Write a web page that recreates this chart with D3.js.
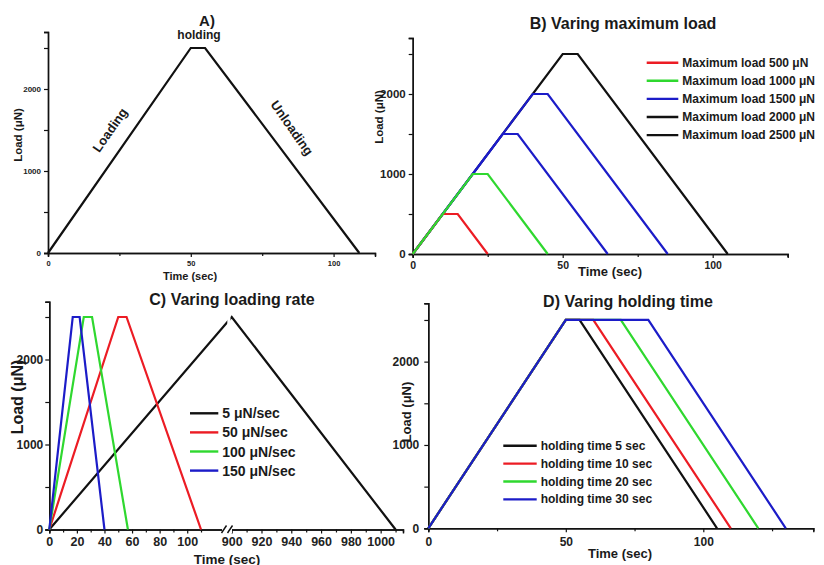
<!DOCTYPE html>
<html lang="en">
<head>
<meta charset="UTF-8">
<title>load functions</title>
<script src="https://cdn.jsdelivr.net/npm/d3@7/dist/d3.min.js"></script>
<style>
    body{ margin:0; background:#fff; }
    svg{ font-family:'Liberation Sans', Arial, sans-serif; font-weight:bold; }
    .domain{ stroke:#111; stroke-width:1.4; }
    .tick line{ stroke:#111; stroke-width:1.2; }
    .tick text{ fill:#222; }
    .curve{ fill:none; stroke-width:2.2; stroke-linejoin:miter; }
</style>
</head>
<body>
<svg id="chart"></svg>
<script>
    // ---- A) single load function
    let timeA = [0, 50, 55, 109]
    let loadA = [0, 2500, 2500, 0]

    // ---- B) varying maximum load
    let labelsB = ["Maximum load 500 \u03bcN", "Maximum load 1000 \u03bcN", "Maximum load 1500 \u03bcN",
                   "Maximum load 2000 \u03bcN", "Maximum load 2500 \u03bcN"]
    let timesB = [[0, 10, 15, 25], [0, 20, 25, 45], [0, 30, 35, 65], [0, 40, 45, 85], [0, 50, 55, 105]]
    let loadsB = [[0, 500, 500, 0], [0, 1000, 1000, 0], [0, 1500, 1500, 0], [0, 2000, 2000, 0], [0, 2500, 2500, 0]]

    // ---- C) varying loading rate (broken time axis)
    let labelsC = ["5 \u03bcN/sec", "50 \u03bcN/sec", "100 \u03bcN/sec", "150 \u03bcN/sec"]
    let timesC = [[0, 900, 1010], [0, 50, 56, 110], [0, 25, 31, 57], [0, 17, 22, 40]]
    let loadsC = [[0, 2500, 0], [0, 2500, 2500, 0], [0, 2500, 2500, 0], [0, 2500, 2500, 0]]
    let ticksC = [0, 20, 40, 60, 80, 100, 900, 920, 940, 960, 980, 1000]
    let minorC = [10, 30, 50, 70, 90, 110, 910, 930, 950, 970, 990, 1010]

    // ---- D) varying holding time
    let labelsD = ["holding time 5 sec", "holding time 10 sec", "holding time 20 sec", "holding time 30 sec"]
    let timesD = [[0, 50, 55, 105], [0, 50, 60, 110], [0, 50, 70, 120], [0, 50, 80, 130]]
    let loadsD = [[0, 2500, 2500, 0], [0, 2500, 2500, 0], [0, 2500, 2500, 0], [0, 2500, 2500, 0]]

    let loadMajor = [0, 1000, 2000]
    let loadMinor = [500, 1500, 2500]

    const RED = "#ec1c24", GREEN = "#2fd82f", BLUE = "#1c1cc8", BLACK = "#111"

    const svg = d3.select("#chart").attr("width", 824).attr("height", 565)

    function addText(txt, x, y, size, opts){
        opts = opts || {}
        let t = svg.append("text").attr("x", x).attr("y", y)
            .attr("font-size", size).attr("text-anchor", opts.anchor || "middle")
            .attr("dominant-baseline", "central").attr("fill", "#1a1a1a").text(txt)
        if(opts.rot !== undefined) t.attr("transform", `rotate(${opts.rot},${x},${y})`)
        return t
    }

    function axes(x, y, o){
        let x0 = x.range()[0], y0 = y.range()[0]
        let gy = svg.append("g").attr("transform", `translate(${x0},0)`)
        gy.call(d3.axisLeft(y).tickValues(loadMajor).tickSize(4).tickPadding(o.yPad)
            .tickFormat(d3.format("d")))
        gy.selectAll("text").attr("font-size", o.yFont)
        svg.append("g").attr("transform", `translate(${x0},0)`)
            .call(d3.axisLeft(y).tickValues(loadMinor).tickSize(4).tickFormat(""))

        let gx = svg.append("g").attr("transform", `translate(0,${y0})`)
        gx.call(d3.axisBottom(x).tickValues(o.xMajor).tickSize(4).tickPadding(o.xPad)
            .tickFormat(d3.format("d")))
        gx.selectAll("text").attr("font-size", o.xFont)
        svg.append("g").attr("transform", `translate(0,${y0})`)
            .call(d3.axisBottom(x).tickValues(o.xMinor).tickSize(3).tickFormat(""))
    }

    function curves(x, y, times, loads, colors, order){
        let line = d3.line().x(d => x(d[0])).y(d => y(d[1]))
        order.forEach(i => {
            svg.append("path").attr("class", "curve")
                .attr("d", line(d3.zip(times[i], loads[i])))
                .attr("stroke", colors[i])
        })
    }

    function legend(labels, colors, x1, x2, y0, gap, size){
        labels.forEach((lab, i) => {
            let yy = y0 + i * gap
            svg.append("line").attr("x1", x1).attr("x2", x2).attr("y1", yy).attr("y2", yy)
                .attr("stroke", colors[i]).attr("stroke-width", 2.4)
            addText(lab, x2 + 4, yy, size, {anchor: "start"})
        })
    }

    // ================= A
    let xA = d3.scaleLinear().domain([0, 114.5]).range([48, 375])
    let yA = d3.scaleLinear().domain([0, 2695]).range([253, 32])
    axes(xA, yA, {xMajor: [0, 50, 100], xMinor: [25, 75], yPad: 3, xPad: 4, yFont: 8, xFont: 7.5})
    curves(xA, yA, [timeA], [loadA], [BLACK], [0])
    addText("A)", 207, 20, 15)
    addText("holding", 199, 35, 12)
    addText("Loading", 110, 130, 13, {rot: -55})
    addText("Unloading", 292, 128, 13, {rot: 55})
    addText("Load (\u03bcN)", 18, 135, 11.5, {rot: -90})
    addText("Time (sec)", 190, 276, 11)

    // ================= B
    let xB = d3.scaleLinear().domain([0, 125]).range([412.7, 787.7])
    let yB = d3.scaleLinear().domain([0, 2700]).range([254, 38])
    axes(xB, yB, {xMajor: [0, 50, 100], xMinor: [25, 75, 125], yPad: 3, xPad: 4, yFont: 11.5, xFont: 10.5})
    let lineColB = [RED, GREEN, BLUE, BLUE, BLACK]
    let legColB = [RED, GREEN, BLUE, BLACK, BLACK]
    curves(xB, yB, timesB, loadsB, lineColB, [4, 3, 2, 0, 1])
    legend(labelsB, legColB, 646.7, 678.3, 62.7, 18.1, 12)
    addText("B) Varing maximum load", 623, 23, 16)
    addText("Load (\u03bcN)", 378.5, 117, 11.5, {rot: -90})
    addText("Time (sec)", 610, 271, 13)

    // ================= C
    let xC = d3.scaleLinear().domain([0, 125, 900, 1015]).range([49.3, 221.7, 231.7, 403])
    let yC = d3.scaleLinear().domain([0, 2680]).range([529.5, 301.7])
    axes(xC, yC, {xMajor: ticksC, xMinor: minorC, yPad: 2, xPad: 4, yFont: 12, xFont: 12.5})
    curves(xC, yC, timesC, loadsC, [BLACK, RED, GREEN, BLUE], [0, 1, 2, 3])
    // break in the time axis
    svg.append("rect").attr("x", 227.3).attr("y", 300).attr("width", 3.2).attr("height", 40).attr("fill", "#fff")
    svg.append("rect").attr("x", 222).attr("y", 526).attr("width", 10).attr("height", 7).attr("fill", "#fff")
    ;[224, 230].forEach(bx => {
        svg.append("line").attr("x1", bx - 2.5).attr("x2", bx + 2.5).attr("y1", 533).attr("y2", 525.5)
            .attr("stroke", "#111").attr("stroke-width", 1.4)
    })
    legend(labelsC, [BLACK, RED, GREEN, BLUE], 190, 218.3, 413.3, 19.1, 14)
    addText("C) Varing loading rate", 232, 299, 16)
    addText("Load (\u03bcN)", 17, 397, 16, {rot: -90})
    addText("Time (sec)", 227, 559, 13.5)

    // ================= D
    let xD = d3.scaleLinear().domain([0, 140]).range([428.3, 813.3])
    let yD = d3.scaleLinear().domain([0, 2700]).range([528.3, 303.3])
    axes(xD, yD, {xMajor: [0, 50, 100], xMinor: [25, 75, 125], yPad: 5, xPad: 5, yFont: 12, xFont: 12})
    curves(xD, yD, timesD, loadsD, [BLACK, RED, GREEN, BLUE], [0, 1, 2, 3])
    legend(labelsD, [BLACK, RED, GREEN, BLUE], 503.3, 536.7, 445.7, 17.9, 12)
    addText("D) Varing holding time", 628, 301, 16)
    addText("Load (\u03bcN)", 406.5, 412, 13, {rot: -90})
    addText("Time (sec)", 620, 553, 13)
</script>
</body>
</html>
